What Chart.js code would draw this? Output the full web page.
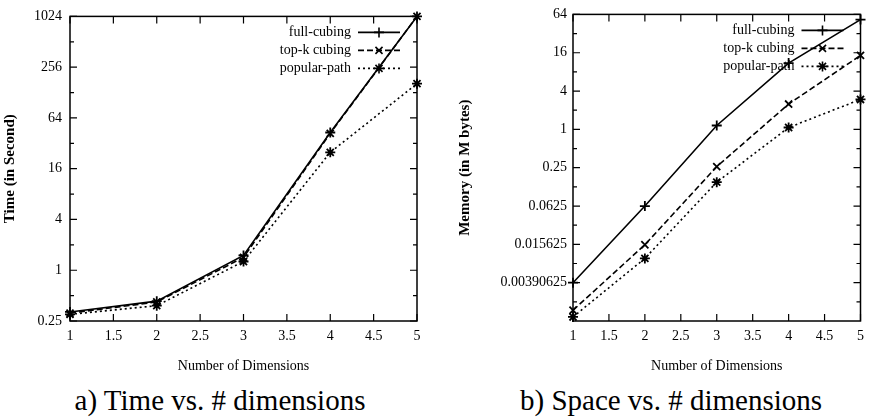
<!DOCTYPE html>
<html>
<head>
<meta charset="utf-8">
<script src="https://cdn.jsdelivr.net/npm/chart.js@4/dist/chart.umd.min.js"></script>
<style>
    body { margin: 0; background: #fff; }
    #wrap { position: relative; width: 871px; height: 417px; overflow: hidden; background: #fff; }
    canvas { position: absolute; top: 0; }
    .caption {
        position: absolute; top: 383px; width: 440px; text-align: center;
        font-family: 'Liberation Serif', 'Times New Roman', serif; font-size: 29px; line-height: 34px; color: #000;
    }
</style>
</head>
<body>
<div id="wrap">
    <canvas id="timeChart" width="435" height="380" style="left:0"></canvas>
    <canvas id="spaceChart" width="436" height="380" style="left:435px"></canvas>
    <div class="caption" style="left:0">a) Time vs. # dimensions</div>
    <div class="caption" style="left:451px">b) Space vs. # dimensions</div>
</div>
<script>
const dims = [1, 2, 3, 4, 5];

// time in seconds (log2 axis)
const timeFull = [0.32, 0.43, 1.5, 43, 1024];
const timeTopK = [0.31, 0.42, 1.42, 42, 1024];
const timePopular = [0.30, 0.38, 1.27, 25, 163];

// memory in M bytes (log4 axis)
const spaceFull = [0.0039, 0.0625, 1.15, 11, 53];
const spaceTopK = [0.00144, 0.0154, 0.26, 2.5, 14.5];
const spacePopular = [0.00113, 0.0094, 0.148, 1.07, 2.95];

const timeTicks = [0.25, 1, 4, 16, 64, 256, 1024];
const timeMinor = [0.5, 2, 8, 32, 128, 512];
const spaceTicks = [0.00390625, 0.015625, 0.0625, 0.25, 1, 4, 16, 64];
const spaceMinor = [0.001953125, 0.0078125, 0.03125, 0.125, 0.5, 2, 8, 32];

const seriesNames = ["full-cubing", "top-k cubing", "popular-path"];

const SERIF = "'Liberation Serif', 'Times New Roman', serif";

// gnuplot style box with inward ticks + key drawn inside the plot
const framePlugin = {
    id: "frame",
    afterDraw(chart, args, opts) {
        const { ctx, chartArea: a, scales: { x, y } } = chart;
        ctx.save();
        ctx.strokeStyle = "#000";
        ctx.setLineDash([]);
        ctx.lineWidth = 1.5;
        ctx.strokeRect(a.left, a.top, a.right - a.left, a.bottom - a.top);

        ctx.lineWidth = 1.2;
        ctx.beginPath();
        x.ticks.forEach((t) => {
            const px = x.getPixelForValue(t.value);
            ctx.moveTo(px, a.bottom); ctx.lineTo(px, a.bottom - 7);
            ctx.moveTo(px, a.top); ctx.lineTo(px, a.top + 7);
        });
        y.ticks.forEach((t) => {
            const py = y.getPixelForValue(t.value);
            ctx.moveTo(a.left, py); ctx.lineTo(a.left + 7, py);
            ctx.moveTo(a.right, py); ctx.lineTo(a.right - 7, py);
        });
        opts.minor.forEach((v) => {
            const py = y.getPixelForValue(v);
            ctx.moveTo(a.left, py); ctx.lineTo(a.left + 4, py);
            ctx.moveTo(a.right, py); ctx.lineTo(a.right - 4, py);
        });
        ctx.stroke();

        // key
        ctx.font = "14px " + SERIF;
        ctx.fillStyle = "#000";
        ctx.textAlign = "right";
        ctx.textBaseline = "middle";
        chart.data.datasets.forEach((ds, i) => {
            const rowY = a.top + 16 + i * 18;
            const textX = a.right - 66;
            ctx.fillText(ds.label, textX, rowY);
            ctx.lineWidth = ds.borderWidth;
            ctx.setLineDash(ds.borderDash || []);
            ctx.beginPath();
            ctx.moveTo(textX + 7, rowY);
            ctx.lineTo(a.right - 17, rowY);
            ctx.stroke();
            ctx.setLineDash([]);
            Chart.helpers.drawPoint(ctx, {
                pointStyle: ds.pointStyle,
                radius: ds.pointRadius,
                rotation: 0,
                borderWidth: ds.pointBorderWidth,
            }, (textX + 7 + a.right - 17) / 2, rowY);
        });
        ctx.restore();
    },
};

function makeDataset(label, values, style, dash) {
    return {
        label: label,
        data: dims.map((d, i) => ({ x: d, y: values[i] })),
        borderColor: "#000",
        backgroundColor: "#000",
        borderWidth: 1.6,
        borderDash: dash,
        pointStyle: style,
        pointRadius: 5,
        pointBorderWidth: 1.8,
        pointBorderColor: "#000",
        fill: false,
        tension: 0,
        clip: false,
    };
}

function makeChart(id, cfg) {
    const canvas = document.getElementById(id);
    return new Chart(canvas.getContext("2d"), {
        type: "line",
        data: {
            datasets: [
                makeDataset(seriesNames[0], cfg.full, "cross", []),
                makeDataset(seriesNames[1], cfg.topk, "crossRot", [6, 3]),
                makeDataset(seriesNames[2], cfg.popular, "star", [2, 3]),
            ],
        },
        options: {
            responsive: false,
            animation: false,
            devicePixelRatio: 1,
            layout: { padding: { top: cfg.top, right: cfg.right, left: 0, bottom: 0 } },
            plugins: {
                legend: { display: false },
                tooltip: { enabled: false },
                frame: { minor: cfg.minor },
            },
            scales: {
                x: {
                    type: "linear",
                    min: 1,
                    max: 5,
                    afterFit: (s) => { s.height = 380 - cfg.bottom; },
                    ticks: {
                        stepSize: 0.5,
                        color: "#000",
                        padding: 7,
                        font: { family: SERIF, size: 14 },
                        callback: (v) => String(v),
                    },
                    grid: { display: false, drawTicks: false },
                    border: { display: false },
                    title: {
                        display: true,
                        text: "Number of Dimensions",
                        color: "#000",
                        font: { family: SERIF, size: 14 },
                        padding: { bottom: 5 },
                    },
                },
                y: {
                    type: "logarithmic",
                    min: cfg.min,
                    max: cfg.max,
                    afterFit: (s) => { s.width = cfg.axisWidth; },
                    afterBuildTicks: (s) => { s.ticks = cfg.ticks.map((v) => ({ value: v })); },
                    ticks: {
                        autoSkip: false,
                        color: "#000",
                        padding: cfg.labelPad,
                        font: { family: SERIF, size: 14 },
                        callback: (v) => String(v),
                    },
                    grid: { display: false, drawTicks: false },
                    border: { display: false },
                    title: {
                        display: true,
                        text: cfg.yTitle,
                        color: "#000",
                        font: { family: SERIF, size: 15, weight: "bold" },
                        padding: { top: cfg.titlePad },
                    },
                },
            },
        },
        plugins: [framePlugin],
    });
}

makeChart("timeChart", {
    full: timeFull, topk: timeTopK, popular: timePopular,
    min: 0.25, max: 1024, ticks: timeTicks, minor: timeMinor,
    top: 13, right: 18, bottom: 321, axisWidth: 70, labelPad: 8, titlePad: 1,
    yTitle: "Time (in Second)",
});

makeChart("spaceChart", {
    full: spaceFull, topk: spaceTopK, popular: spacePopular,
    min: 0.0009765625, max: 64, ticks: spaceTicks, minor: spaceMinor,
    top: 12, right: 3, bottom: 321, axisWidth: 138, labelPad: 6, titlePad: 21,
    yTitle: "Memory (in M bytes)",
});
</script>
</body>
</html>
